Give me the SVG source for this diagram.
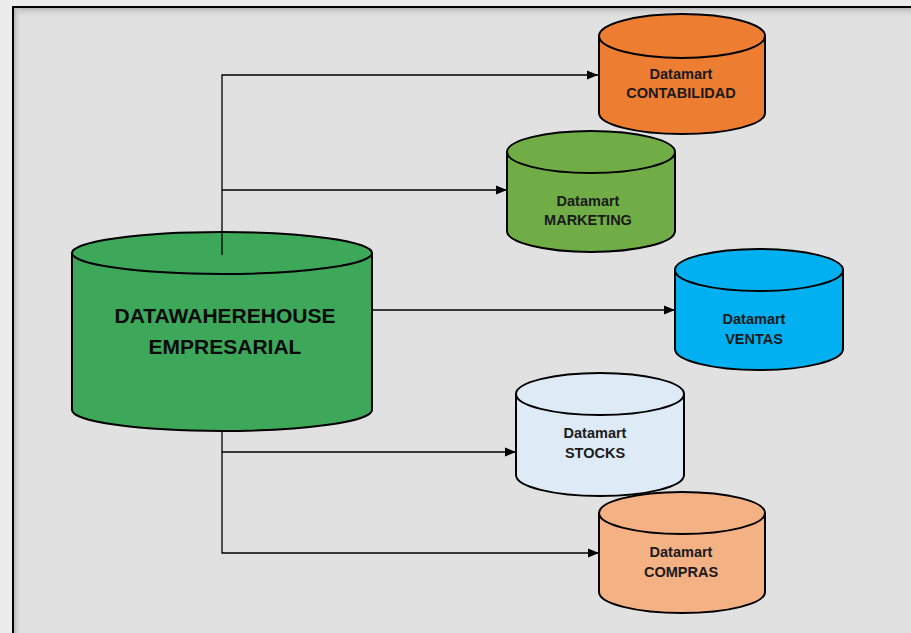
<svg xmlns="http://www.w3.org/2000/svg" width="911" height="633" viewBox="0 0 911 633">
<defs>
<style>
.cyl{stroke:#000;stroke-width:2}
.lbl{font-family:"Liberation Sans",Arial,sans-serif;font-weight:bold;font-size:14.5px;fill:#1a1a1a;text-anchor:middle}
.big{font-family:"Liberation Sans",Arial,sans-serif;font-weight:bold;font-size:21px;fill:#0a0a0a;text-anchor:middle}
.conn{stroke:#000;stroke-width:1.3;fill:none}
</style>
<marker id="arr" markerWidth="12" markerHeight="12" refX="11" refY="6" orient="auto" markerUnits="userSpaceOnUse">
<path d="M0,1.5 L11,6 L0,10.5 Z" fill="#000"/>
</marker>
<linearGradient id="shT" x1="0" y1="0" x2="0" y2="1">
<stop offset="0" stop-color="#b8b8b8"/><stop offset="1" stop-color="#e0e0e0" stop-opacity="0"/>
</linearGradient>
<linearGradient id="shL" x1="0" y1="0" x2="1" y2="0">
<stop offset="0" stop-color="#b8b8b8"/><stop offset="1" stop-color="#e0e0e0" stop-opacity="0"/>
</linearGradient>
</defs>
<rect x="0" y="0" width="911" height="633" fill="#ececec"/>
<rect x="13" y="7" width="910" height="640" fill="#e1e1e1"/>
<rect x="14" y="8" width="897" height="10" fill="url(#shT)"/>
<rect x="14" y="8" width="8" height="625" fill="url(#shL)"/>
<rect x="13" y="7" width="910" height="640" fill="none" stroke="#000" stroke-width="2"/>

<g id="connectors">
<path class="conn" d="M222,255 V75 H598" marker-end="url(#arr)"/>
<path class="conn" d="M222,190 H507" marker-end="url(#arr)"/>
<path class="conn" d="M372,310 H675" marker-end="url(#arr)"/>
<path class="conn" d="M222,430 V553 H599" marker-end="url(#arr)"/>
<path class="conn" d="M222,452 H516" marker-end="url(#arr)"/>
</g>

<g id="datawarehouse">
<path class="cyl" fill="#3da85a" d="M72,253 V410 A150,21 0 0 0 372,410 V253"/>
<ellipse class="cyl" fill="#3da85a" cx="222" cy="253" rx="150" ry="21"/>
<line x1="222" y1="232" x2="222" y2="255" stroke="#000" stroke-width="1.3"/>
<text class="big" x="225" y="323">DATAWAHEREHOUSE</text>
<text class="big" x="225" y="354">EMPRESARIAL</text>
</g>

<g id="contabilidad">
<path class="cyl" fill="#ed7d31" d="M599,36 V113 A83,21 0 0 0 765,113 V36"/>
<ellipse class="cyl" fill="#ed7d31" cx="682" cy="36" rx="83" ry="22"/>
<text class="lbl" x="681" y="79">Datamart</text>
<text class="lbl" x="681" y="98">CONTABILIDAD</text>
</g>

<g id="marketing">
<path class="cyl" fill="#70ad47" d="M507,152 V231 A84,21 0 0 0 675,231 V152"/>
<ellipse class="cyl" fill="#70ad47" cx="591" cy="152" rx="84" ry="21"/>
<text class="lbl" x="588" y="206">Datamart</text>
<text class="lbl" x="588" y="225">MARKETING</text>
</g>

<g id="ventas">
<path class="cyl" fill="#00b0f0" d="M675,270 V349 A84,21 0 0 0 843,349 V270"/>
<ellipse class="cyl" fill="#00b0f0" cx="759" cy="270" rx="84" ry="21"/>
<text class="lbl" x="754" y="324">Datamart</text>
<text class="lbl" x="754" y="344">VENTAS</text>
</g>

<g id="stocks">
<path class="cyl" fill="#deebf7" d="M516,394 V475 A84,21 0 0 0 684,475 V394"/>
<ellipse class="cyl" fill="#deebf7" cx="600" cy="394" rx="84" ry="21"/>
<text class="lbl" x="595" y="438">Datamart</text>
<text class="lbl" x="595" y="458">STOCKS</text>
</g>

<g id="compras">
<path class="cyl" fill="#f4b183" d="M599,513 V592 A83,21 0 0 0 765,592 V513"/>
<ellipse class="cyl" fill="#f4b183" cx="682" cy="513" rx="83" ry="21"/>
<text class="lbl" x="681" y="557">Datamart</text>
<text class="lbl" x="681" y="577">COMPRAS</text>
</g>
</svg>
